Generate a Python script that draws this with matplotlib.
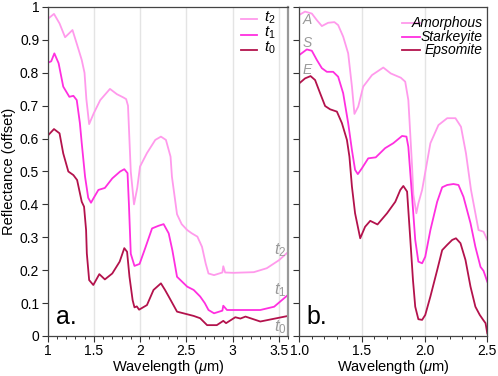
import numpy as np
import matplotlib
matplotlib.use("Agg")
import matplotlib.pyplot as plt
from matplotlib.lines import Line2D
from matplotlib.ticker import MultipleLocator, FormatStrFormatter

plt.rcParams['font.family'] = ['Liberation Sans', 'DejaVu Sans']
plt.rcParams['mathtext.fontset'] = 'custom'
plt.rcParams['mathtext.it'] = 'Liberation Sans:italic'
plt.rcParams['mathtext.rm'] = 'Liberation Sans'

# --- panel a: spectra at t2, t1, t0 ---
t2_x = [1.00, 1.07, 1.13, 1.19, 1.27, 1.32, 1.37, 1.40, 1.42, 1.45, 1.50, 1.57, 1.675, 1.75,
        1.82, 1.85, 1.87, 1.90, 1.935, 1.97, 2.00, 2.075, 2.165, 2.226, 2.28, 2.33, 2.345,
        2.40, 2.45, 2.51, 2.56, 2.62, 2.67, 2.71, 2.74, 2.80, 2.89, 2.90, 2.92, 3.01, 3.23,
        3.37, 3.50, 3.60]
t2_y = [0.963, 0.979, 0.95, 0.908, 0.93, 0.885, 0.839, 0.80, 0.72, 0.644, 0.677, 0.717, 0.751,
        0.735, 0.725, 0.72, 0.70, 0.50, 0.40, 0.45, 0.515, 0.556, 0.596, 0.606, 0.596, 0.545,
        0.484, 0.37, 0.34, 0.322, 0.312, 0.302, 0.271, 0.22, 0.19, 0.185, 0.193, 0.212, 0.193,
        0.192, 0.194, 0.206, 0.23, 0.255]

t1_x = [1.00, 1.04, 1.074, 1.12, 1.17, 1.236, 1.28, 1.316, 1.35, 1.37, 1.406, 1.44, 1.47,
        1.50, 1.55, 1.62, 1.70, 1.785, 1.83, 1.865, 1.88, 1.90, 1.94, 1.995, 2.056, 2.13,
        2.20, 2.255, 2.31, 2.35, 2.40, 2.51, 2.58, 2.65, 2.70, 2.74, 2.80, 2.89, 2.90, 2.94,
        3.30, 3.45, 3.60]
t1_y = [0.83, 0.835, 0.859, 0.829, 0.758, 0.727, 0.73, 0.717, 0.647, 0.586, 0.484, 0.42, 0.405,
        0.42, 0.444, 0.45, 0.479, 0.50, 0.507, 0.495, 0.40, 0.25, 0.213, 0.219, 0.267, 0.327,
        0.335, 0.34, 0.312, 0.26, 0.18, 0.15, 0.14, 0.12, 0.10, 0.079, 0.069, 0.077, 0.092,
        0.079, 0.079, 0.089, 0.125]

t0_x = [1.00, 1.07, 1.13, 1.17, 1.225, 1.28, 1.32, 1.37, 1.395, 1.417, 1.425, 1.45, 1.495,
        1.56, 1.62, 1.70, 1.78, 1.83, 1.86, 1.886, 1.92, 1.94, 1.965, 1.99, 2.075, 2.146,
        2.226, 2.27, 2.31, 2.40, 2.58, 2.65, 2.725, 2.83, 2.90, 2.93, 3.03, 3.085, 3.14,
        3.30, 3.60]
t0_y = [0.608, 0.629, 0.616, 0.555, 0.50, 0.489, 0.474, 0.408, 0.393, 0.322, 0.251, 0.17, 0.155,
        0.188, 0.172, 0.19, 0.226, 0.267, 0.256, 0.18, 0.109, 0.087, 0.09, 0.08, 0.094, 0.14,
        0.16, 0.14, 0.12, 0.074, 0.061, 0.054, 0.033, 0.033, 0.046, 0.039, 0.057, 0.053,
        0.059, 0.044, 0.061]

# --- panel b: reference sulfates ---
amo_x = [1.0, 1.046, 1.1, 1.14, 1.18, 1.23, 1.28, 1.31, 1.35, 1.39, 1.42, 1.44, 1.47, 1.51,
         1.58, 1.67, 1.73, 1.81, 1.845, 1.87, 1.90, 1.91, 1.934, 1.95, 1.98, 2.046, 2.11,
         2.18, 2.246, 2.29, 2.33, 2.37, 2.405, 2.43, 2.47, 2.5]
amo_y = [0.976, 0.986, 0.98, 0.96, 0.942, 0.952, 0.954, 0.945, 0.91, 0.859, 0.758, 0.675,
         0.697, 0.758, 0.793, 0.816, 0.798, 0.785, 0.773, 0.717, 0.515, 0.43, 0.373, 0.403,
         0.444, 0.586, 0.641, 0.662, 0.662, 0.636, 0.555, 0.444, 0.373, 0.322, 0.317, 0.292]

sta_x = [1.0, 1.06, 1.10, 1.14, 1.18, 1.22, 1.27, 1.31, 1.35, 1.39, 1.42, 1.445, 1.467, 1.50,
         1.55, 1.61, 1.685, 1.75, 1.82, 1.855, 1.87, 1.90, 1.925, 1.95, 1.98, 2.005, 2.046,
         2.10, 2.14, 2.18, 2.23, 2.27, 2.31, 2.366, 2.405, 2.446, 2.47, 2.5]
sta_y = [0.854, 0.871, 0.867, 0.839, 0.814, 0.803, 0.803, 0.788, 0.738, 0.647, 0.565, 0.505,
         0.492, 0.51, 0.54, 0.543, 0.571, 0.586, 0.608, 0.606, 0.575, 0.423, 0.292, 0.226,
         0.221, 0.241, 0.322, 0.408, 0.452, 0.459, 0.462, 0.459, 0.423, 0.343, 0.271, 0.21,
         0.198, 0.165]

eps_x = [1.0, 1.046, 1.09, 1.126, 1.166, 1.206, 1.246, 1.30, 1.34, 1.38, 1.40, 1.42, 1.445,
         1.486, 1.525, 1.566, 1.624, 1.70, 1.766, 1.806, 1.83, 1.86, 1.886, 1.907, 1.925,
         1.95, 1.98, 2.005, 2.046, 2.10, 2.14, 2.18, 2.22, 2.25, 2.286, 2.326, 2.366, 2.405,
         2.44, 2.467, 2.486, 2.5]
eps_y = [0.768, 0.783, 0.79, 0.778, 0.738, 0.699, 0.689, 0.682, 0.647, 0.596, 0.545, 0.454,
         0.373, 0.297, 0.332, 0.35, 0.339, 0.373, 0.408, 0.444, 0.456, 0.439, 0.292, 0.17,
         0.089, 0.051, 0.049, 0.064, 0.12, 0.20, 0.261, 0.277, 0.292, 0.297, 0.282, 0.231,
         0.15, 0.089, 0.064, 0.049, 0.039, 0.008]

c_light = '#ff9aec'
c_mid = '#ff2fe0'
c_dark = '#b3124c'
c_gray = '#9a9a9a'
lw = 1.3

fig = plt.figure(figsize=(4.98, 3.76), dpi=100)
axa = fig.add_axes([0.0954, 0.1064, 0.483, 0.875])
axb = fig.add_axes([0.601, 0.1064, 0.3775, 0.875])

for ax in (axa, axb):
    ax.set_ylim(0, 1)
    ax.xaxis.set_major_locator(MultipleLocator(0.5))
    ax.xaxis.set_minor_locator(MultipleLocator(0.1))
    ax.yaxis.set_major_locator(MultipleLocator(0.1))
    ax.grid(axis='x', color='#e4e4e4', lw=1.0)
    ax.set_axisbelow(True)
    ax.tick_params(axis='both', which='major', length=4, width=0.8, labelsize=10,
                   color='#333333', pad=2)
    ax.tick_params(axis='x', which='minor', length=2.5, width=0.7, color='#333333')
    for s in ax.spines.values():
        s.set_color('#444444')
        s.set_linewidth(0.9)
    ax.set_xlabel('Wavelength ($\\mu$m)', fontsize=10.5, labelpad=0)

# panel a
axa.set_xlim(1, 3.6)
axa.xaxis.set_major_formatter(FormatStrFormatter('%g'))
axa.yaxis.set_major_formatter(FormatStrFormatter('%g'))
axa.set_ylabel('Reflectance (offset)', fontsize=10.5, labelpad=3)
axa.spines['right'].set_color('#999999')
axa.spines['right'].set_linewidth(1.6)
axa.plot(t2_x, t2_y, color=c_light, lw=lw)
axa.plot(t1_x, t1_y, color=c_mid, lw=lw)
axa.plot(t0_x, t0_y, color=c_dark, lw=lw)

# legend panel a
for i, (c, lab) in enumerate([(c_light, '$t_2$'), (c_mid, '$t_1$'), (c_dark, '$t_0$')]):
    yy = 0.962 - i * 0.046
    axa.add_line(Line2D([0.805, 0.87], [yy, yy], color=c, lw=lw, transform=axa.transAxes))
    axa.text(0.9, yy - 0.005, lab, transform=axa.transAxes, fontsize=11, va='baseline', ha='left')

# curve tags panel a
for yy, lab in [(0.26, '$t_2$'), (0.14, '$t_1$'), (0.028, '$t_0$')]:
    axa.text(3.52, yy, lab, color=c_gray, fontsize=12, ha='center', va='center')
axa.text(0.035, 0.022, 'a.', transform=axa.transAxes, fontsize=18, va='bottom', ha='left')

# panel b
axb.set_xlim(1, 2.5)
axb.xaxis.set_major_formatter(FormatStrFormatter('%.1f'))
axb.tick_params(axis='y', labelleft=False)
axb.plot(amo_x, amo_y, color=c_light, lw=lw)
axb.plot(sta_x, sta_y, color=c_mid, lw=lw)
axb.plot(eps_x, eps_y, color=c_dark, lw=lw)

for i, (c, lab) in enumerate([(c_light, 'Amorphous'), (c_mid, 'Starkeyite'), (c_dark, 'Epsomite')]):
    yy = 0.95 - i * 0.04
    axb.add_line(Line2D([0.545, 0.64], [yy, yy], color=c, lw=lw, transform=axb.transAxes))
    axb.text(0.975, yy, lab, transform=axb.transAxes, fontsize=10, style='italic',
             va='center', ha='right')

for yy, lab in [(0.96, 'A'), (0.89, 'S'), (0.81, 'E')]:
    axb.text(1.06, yy, lab, color=c_gray, fontsize=10, style='italic', ha='center', va='center')
axb.text(0.04, 0.022, 'b.', transform=axb.transAxes, fontsize=18, va='bottom', ha='left')

fig.savefig('out.png', dpi=100)
